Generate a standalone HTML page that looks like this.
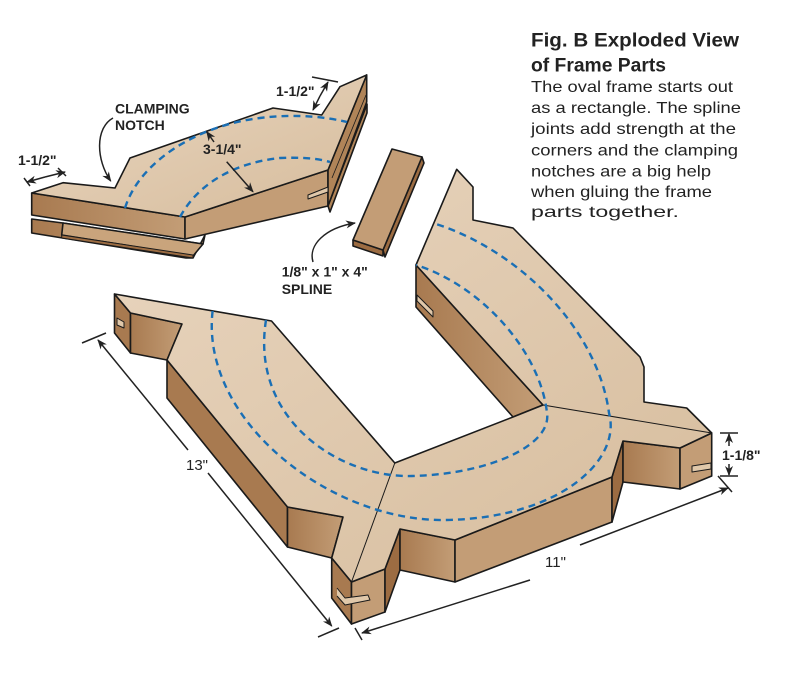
<!DOCTYPE html>
<html><head><meta charset="utf-8"><style>
html,body{margin:0;padding:0;background:#fff;}
svg{display:block;}
.t{font-family:"Liberation Sans",sans-serif;}
</style></head><body>
<svg width="800" height="686" viewBox="0 0 800 686" xmlns="http://www.w3.org/2000/svg">
<defs>
<linearGradient id="top" x1="0" y1="0" x2="1" y2="1">
<stop offset="0" stop-color="#e9d6c0"/><stop offset="1" stop-color="#d6bc9c"/></linearGradient>
<linearGradient id="side" x1="0" y1="0" x2="1" y2="0">
<stop offset="0" stop-color="#a87a50"/><stop offset="1" stop-color="#c39d76"/></linearGradient>
<linearGradient id="side2" x1="0" y1="0" x2="1" y2="0">
<stop offset="0" stop-color="#b58c62"/><stop offset="1" stop-color="#9c6c42"/></linearGradient>
<marker id="ah" markerWidth="10" markerHeight="10" refX="9" refY="5" orient="auto" markerUnits="userSpaceOnUse">
<path d="M0,1 L10,5 L0,9 L3,5 Z" fill="#222"/></marker>
</defs>
<g stroke="#1a1a1a" stroke-width="1.6" stroke-linejoin="round">
<!-- TOP-LEFT PIECE -->
<polygon points="31.7,219 63,223 203,244 205,235 193,258 186,258 31.7,233" fill="url(#side)"/>
<polygon points="63,223 203,244 193,256 61.7,235" fill="#c9a47c"/>
<polygon points="61.7,235 193,255 193,258 61.7,238" fill="#9c6c42" stroke-width="1"/>
<polygon points="328,206 367,104 367,113 330,212" fill="#b08458"/>
<polygon points="31.7,193 185,217 185,239 31.7,215" fill="url(#side)"/>
<polygon points="185,217 328,170 328,206 185,239" fill="#c39d76"/>
<polygon points="328,170 366.7,75 366.7,102 328,206" fill="#b08458"/>
<line x1="332" y1="178" x2="366" y2="95" stroke-width="0.8"/>
<line x1="334" y1="190" x2="366" y2="108" stroke-width="0.8"/>
<polygon points="308,195 328,187 328,192 308,199" fill="#e0c8aa" stroke-width="1"/>
<polygon points="31.7,193 63,182.7 115,188 130,158 273,108 321.7,115 340,86.7 366.7,75 328,170 185,217" fill="url(#top)"/>
<!-- SPLINE -->
<polygon points="353,240 383,250 383,256 353,246" fill="#9c6c42"/>
<polygon points="422,157 424,163 385,257 383,250" fill="#9c6c42"/>
<polygon points="392,149 422,157 383,250 353,240" fill="#c39d76"/>
<!-- BOTTOM BIG PIECE side faces -->
<polygon points="114.5,294 130.5,313 130.5,353 114.5,333" fill="#a87a50"/>
<polygon points="130.5,313 182,324 167,360 130.5,353" fill="url(#side)"/>
<polygon points="167,360 287.5,507 287.5,547 167,398" fill="#a87a50"/>
<polygon points="287.5,507 343,517 331.7,558 287.5,547" fill="url(#side)"/>
<polygon points="331.7,558 351.5,582 351.5,624 331.7,598" fill="#a87a50"/>
<polygon points="351.5,582 385,569 385,612 351.5,624" fill="#c39d76"/>
<polygon points="385,569 400,529 400,570 385,612" fill="#9c6c42"/>
<polygon points="400,529 455,540 455,582 400,570" fill="url(#side)"/>
<polygon points="455,540 612,477 612,522 455,582" fill="#c39d76"/>
<polygon points="612,477 623,441 623,482 612,522" fill="#9c6c42"/>
<polygon points="623,441 680,448 680,489 623,482" fill="url(#side)"/>
<polygon points="680,448 711.7,433 711.7,476 680,489" fill="#c39d76"/>
<polygon points="416,265 543,405 513,417 416,307" fill="url(#side)"/>
<!-- top face -->
<polygon points="114.5,294 130.5,313 182,324 167,360 287.5,507 343,517 331.7,558 351.5,582 385,569 400,529 455,540 612,477 623,441 680,448 711.7,433 686.7,408 644,402 644,367 640,357 513,228 473,220 473,187 456.7,169.3 416,265 543,405 513,417 394.8,463 271.5,321" fill="url(#top)"/>
<line x1="394.8" y1="463" x2="351.5" y2="582" stroke-width="1"/>
<line x1="543" y1="405" x2="711.7" y2="433" stroke-width="1"/>
<!-- slots -->
<polygon points="117,318 124,322 124,328 117,325" fill="#e0c8aa" stroke-width="1"/>
<polygon points="417,295 433,311 433,317 417,301" fill="#e0c8aa" stroke-width="1"/>
<polygon points="692,466 711,463 711,469 692,472" fill="#e0c8aa" stroke-width="1"/>
<polyline points="337,588 345,598 368,595 370,600 345,605 337,596" fill="#e0c8aa" stroke-width="1"/>
</g>
<!-- dashed arcs -->
<g fill="none" stroke="#1a6fb5" stroke-width="2.4" stroke-dasharray="7,5">
<path d="M125,208 C140,160 200,125 260,118 C300,113 330,118 347,122"/>
<path d="M180,217 C200,180 240,162 280,158 C305,157 320,159 330,162"/>
<path d="M212.6,311 C200,420 330,522 446,520 C560,518 622,460 609,413 C598,330 520,250 433,223"/>
<path d="M266,320 C250,420 340,478 412,476 C490,474 552,445 547,413 C540,350 480,285 416,265"/>
</g>
<!-- annotation lines -->
<g stroke="#222" stroke-width="1.5" fill="none">
<path d="M113,118 C95,128 96,160 110.7,181" marker-end="url(#ah)"/>
<line x1="45" y1="177" x2="27" y2="182" marker-end="url(#ah)"/>
<line x1="45" y1="177" x2="65" y2="172" marker-end="url(#ah)"/>
<line x1="24" y1="178" x2="30" y2="186"/><line x1="58" y1="168" x2="66" y2="176"/>
<line x1="320" y1="96" x2="313" y2="110" marker-end="url(#ah)"/>
<line x1="320" y1="96" x2="328" y2="82" marker-end="url(#ah)"/>
<line x1="312" y1="77" x2="338" y2="82"/>
<line x1="214" y1="142" x2="206.7" y2="131.7" marker-end="url(#ah)"/>
<line x1="226.7" y1="161.7" x2="253" y2="191.7" marker-end="url(#ah)"/>
<path d="M313,262 C308,245 325,228 355,223" marker-end="url(#ah)"/>
<line x1="188" y1="450" x2="98" y2="340" marker-end="url(#ah)"/>
<line x1="208" y1="473" x2="331.7" y2="626" marker-end="url(#ah)"/>
<line x1="82" y1="343" x2="106" y2="333"/><line x1="318" y1="637" x2="339" y2="628"/>
<line x1="530" y1="580" x2="362" y2="633" marker-end="url(#ah)"/>
<line x1="580" y1="545" x2="728" y2="488" marker-end="url(#ah)"/>
<line x1="718" y1="476" x2="732" y2="492"/><line x1="355" y1="628" x2="362" y2="640"/>
<line x1="720" y1="433" x2="738" y2="433"/><line x1="720" y1="476" x2="738" y2="476"/>
<line x1="729" y1="446" x2="729" y2="434" marker-end="url(#ah)"/>
<line x1="729" y1="464" x2="729" y2="475" marker-end="url(#ah)"/>
</g>
<!-- labels -->
<g class="t" font-weight="bold" font-size="14" fill="#222">
<text x="115" y="113.3">CLAMPING</text>
<text x="115" y="130">NOTCH</text>
<text x="18" y="165">1-1/2"</text>
<text x="276" y="96">1-1/2"</text>
<text x="203" y="154">3-1/4"</text>
<text x="281.7" y="276.7">1/8" x 1" x 4"</text>
<text x="281.7" y="294">SPLINE</text>
<text x="186" y="470" font-weight="normal" font-size="15">13"</text>
<text x="545" y="567" font-weight="normal" font-size="15">11"</text>
<text x="722" y="460">1-1/8"</text>
</g>
<g class="t" fill="#222">
<text x="531" y="46.7" font-weight="bold" font-size="19" textLength="208" lengthAdjust="spacingAndGlyphs">Fig. B  Exploded View</text>
<text x="531" y="71.7" font-weight="bold" font-size="19" textLength="135" lengthAdjust="spacingAndGlyphs">of Frame Parts</text>
<g font-size="16">
<text x="531" y="92" textLength="202" lengthAdjust="spacingAndGlyphs">The oval frame starts out</text>
<text x="531" y="113" textLength="210" lengthAdjust="spacingAndGlyphs">as a rectangle. The spline</text>
<text x="531" y="134" textLength="205" lengthAdjust="spacingAndGlyphs">joints add strength at the</text>
<text x="531" y="155.5" textLength="207" lengthAdjust="spacingAndGlyphs">corners and the clamping</text>
<text x="531" y="176.5" textLength="180" lengthAdjust="spacingAndGlyphs">notches are a big help</text>
<text x="531" y="197" textLength="181" lengthAdjust="spacingAndGlyphs">when gluing the frame</text>
<text x="531" y="217" textLength="148" lengthAdjust="spacingAndGlyphs">parts together.</text>
</g></g>
</svg>
</body></html>
